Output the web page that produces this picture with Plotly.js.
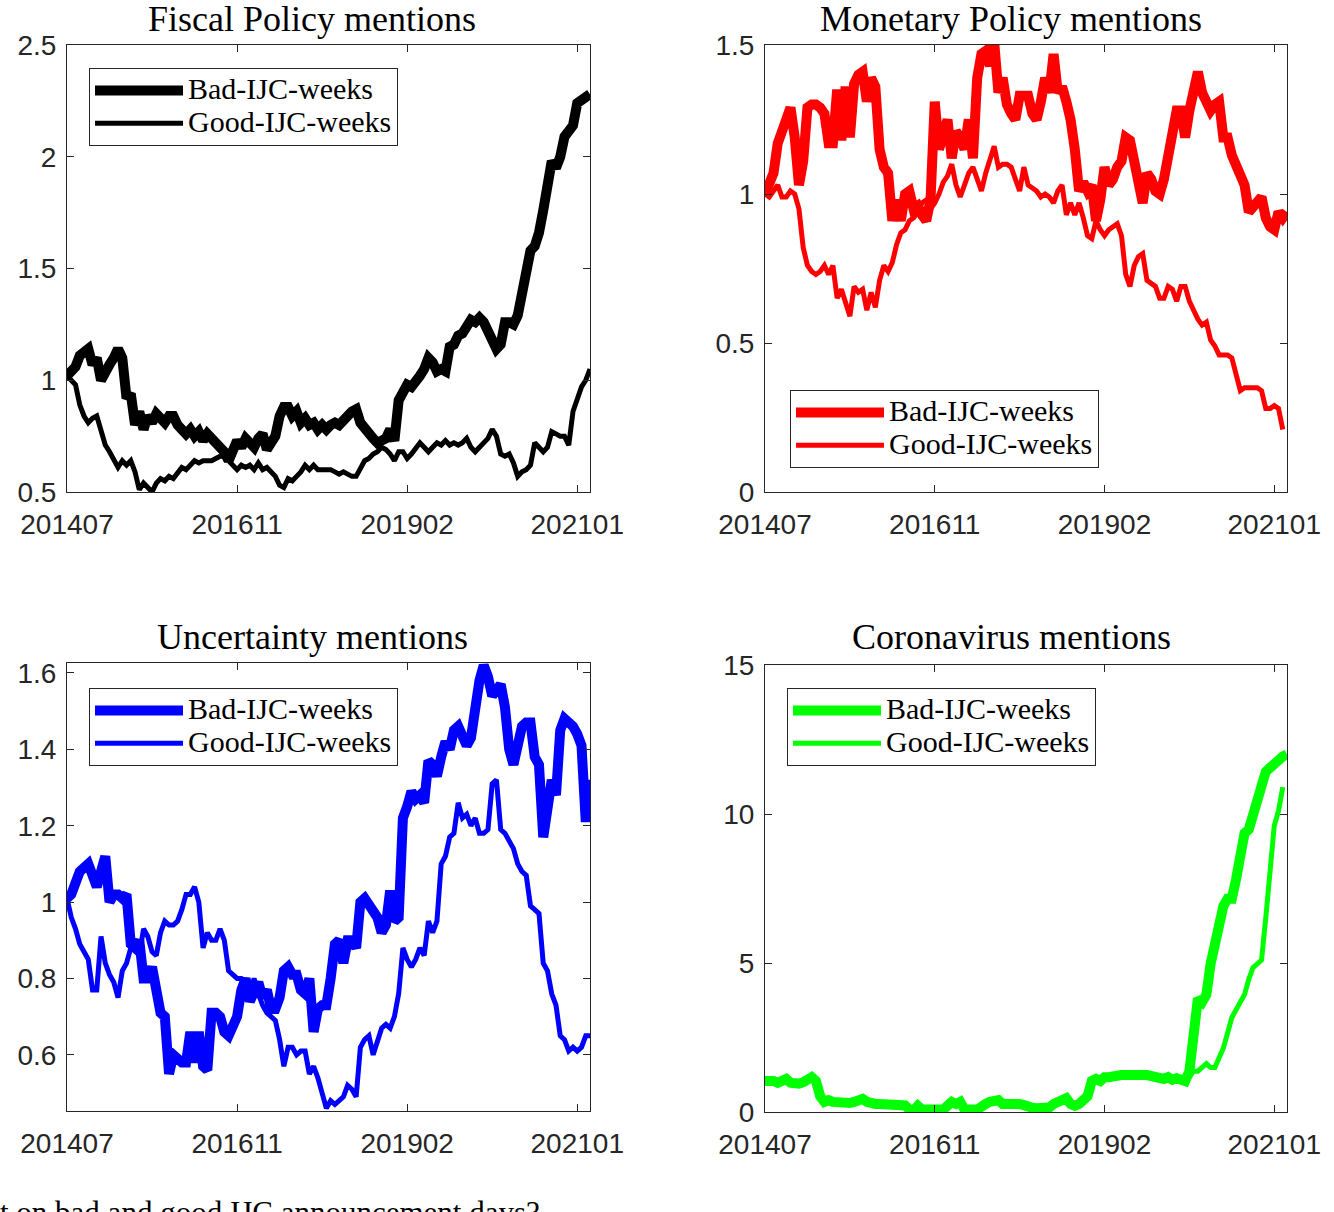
<!DOCTYPE html>
<html>
<head>
<meta charset="utf-8">
<script src="https://cdn.plot.ly/plotly-3.0.1.min.js"></script>
<style>
  html, body { margin: 0; padding: 0; background: #ffffff; }
  #chart { width: 1334px; height: 1212px; }
</style>
</head>
<body>
<div id="chart"></div>
<script>
// Observation index: one value every 2.5 steps of the sample
const STEP = 2.5;

const tickIndex = [0, 100, 200, 300];
const tickLabels = ['201407', '201611', '201902', '202101'];

const seriesNames = ['Bad-IJC-weeks', 'Good-IJC-weeks'];

// Fiscal Policy mentions
const fiscalBad = [1.02,1.04,1.06,1.11,1.12,1.14,1.07,1.10,1.00,1.05,1.07,1.10,1.14,1.10,0.92,0.94,0.80,0.86,0.78,0.84,
  0.81,0.85,0.82,0.81,0.84,0.84,0.80,0.78,0.76,0.78,0.75,0.77,0.73,0.76,0.74,0.72,0.69,0.68,0.64,0.69,
  0.73,0.70,0.74,0.72,0.70,0.74,0.76,0.69,0.72,0.75,0.84,0.88,0.88,0.84,0.86,0.81,0.83,0.80,0.81,0.78,
  0.80,0.78,0.80,0.81,0.80,0.83,0.84,0.86,0.87,0.81,0.78,0.76,0.74,0.72,0.73,0.74,0.78,0.73,0.91,0.96,
  0.98,0.97,0.99,1.02,1.05,1.10,1.08,1.04,1.05,1.04,1.15,1.16,1.20,1.21,1.24,1.27,1.26,1.28,1.26,1.21,
  1.18,1.14,1.16,1.26,1.26,1.25,1.29,1.39,1.45,1.58,1.60,1.66,1.76,1.90,1.98,1.95,2.00,2.09,2.11,2.14,
  2.24,2.25,2.27,2.28];
const fiscalGood = [1.02,1.00,0.98,0.89,0.84,0.81,0.83,0.84,0.78,0.71,0.68,0.64,0.61,0.64,0.62,0.64,0.59,0.51,0.54,0.52,
  0.50,0.54,0.56,0.55,0.57,0.56,0.59,0.61,0.60,0.62,0.64,0.63,0.64,0.64,0.64,0.65,0.66,0.66,0.64,0.62,
  0.60,0.62,0.61,0.62,0.60,0.63,0.60,0.61,0.59,0.57,0.53,0.52,0.56,0.55,0.57,0.59,0.62,0.60,0.62,0.60,
  0.60,0.60,0.60,0.59,0.58,0.59,0.58,0.57,0.57,0.61,0.64,0.65,0.67,0.68,0.70,0.69,0.67,0.64,0.68,0.68,
  0.65,0.67,0.70,0.72,0.70,0.68,0.70,0.72,0.71,0.73,0.71,0.72,0.71,0.72,0.74,0.70,0.68,0.70,0.72,0.74,
  0.78,0.75,0.67,0.66,0.67,0.63,0.57,0.59,0.60,0.62,0.72,0.70,0.68,0.70,0.77,0.76,0.75,0.75,0.71,0.86,
  0.92,0.97,1.00,1.05];

// Monetary Policy mentions
const monetaryBad = [1.00,1.03,1.07,1.17,1.22,1.25,1.29,1.19,1.03,1.11,1.29,1.30,1.30,1.29,1.27,1.17,1.17,1.35,1.18,1.36,
  1.19,1.37,1.40,1.41,1.31,1.39,1.36,1.15,1.09,1.07,0.91,0.98,0.91,1.00,1.01,0.95,0.96,0.93,0.91,0.98,
  1.31,1.15,1.19,1.25,1.12,1.21,1.19,1.15,1.25,1.12,1.39,1.47,1.48,1.43,1.51,1.34,1.39,1.30,1.27,1.25,
  1.33,1.33,1.33,1.27,1.25,1.31,1.39,1.34,1.47,1.34,1.36,1.31,1.25,1.15,1.01,1.04,1.01,1.03,0.91,0.98,
  1.09,1.03,1.05,1.09,1.11,1.19,1.18,1.11,1.03,0.97,1.07,1.05,1.01,1.00,1.05,1.13,1.19,1.28,1.28,1.19,
  1.28,1.35,1.41,1.34,1.30,1.28,1.30,1.31,1.19,1.19,1.13,1.10,1.07,1.03,0.94,0.96,0.98,0.99,0.92,0.89,
  0.88,0.94,0.92,0.94];
const monetaryGood = [1.00,0.99,1.01,1.03,0.99,0.99,1.01,1.00,0.95,0.82,0.76,0.74,0.73,0.74,0.76,0.73,0.76,0.65,0.68,0.64,
  0.59,0.69,0.67,0.68,0.61,0.67,0.62,0.71,0.76,0.74,0.77,0.83,0.87,0.88,0.91,0.92,0.94,0.97,0.98,0.95,
  0.97,1.00,1.04,1.06,1.10,1.03,0.99,1.03,1.07,1.09,1.05,1.01,1.07,1.12,1.16,1.09,1.10,1.10,1.09,1.05,
  1.01,1.09,1.03,1.02,1.01,0.99,1.00,0.99,0.97,1.01,1.03,0.93,0.97,0.93,0.97,0.92,0.86,0.85,0.91,0.88,
  0.86,0.88,0.89,0.90,0.86,0.73,0.69,0.76,0.79,0.80,0.71,0.70,0.69,0.65,0.65,0.69,0.68,0.64,0.69,0.69,
  0.64,0.61,0.58,0.56,0.57,0.51,0.49,0.46,0.46,0.46,0.45,0.39,0.34,0.35,0.35,0.35,0.35,0.34,0.28,0.28,
  0.29,0.28,0.21];

// Uncertainty mentions
const uncertaintyBad = [1.01,1.02,1.05,1.08,1.09,1.10,1.07,1.04,1.08,1.12,1.00,1.02,1.02,1.01,1.02,0.89,0.88,0.90,0.80,0.80,
  0.83,0.76,0.71,0.70,0.55,0.60,0.59,0.58,0.58,0.66,0.58,0.66,0.57,0.56,0.71,0.71,0.70,0.66,0.65,0.68,
  0.70,0.77,0.80,0.74,0.77,0.79,0.75,0.77,0.72,0.72,0.75,0.82,0.83,0.81,0.81,0.77,0.76,0.80,0.66,0.72,
  0.73,0.73,0.80,0.89,0.90,0.84,0.90,0.90,0.88,1.00,1.01,0.99,0.98,0.96,0.92,0.94,1.03,0.95,0.96,1.22,
  1.25,1.29,1.27,1.28,1.26,1.37,1.36,1.33,1.38,1.42,1.40,1.45,1.46,1.43,1.41,1.43,1.51,1.58,1.62,1.59,
  1.54,1.56,1.57,1.51,1.40,1.36,1.43,1.46,1.47,1.47,1.38,1.36,1.17,1.26,1.32,1.28,1.45,1.48,1.47,1.46,
  1.44,1.41,1.21,1.32];
const uncertaintyGood = [1.01,0.96,0.93,0.89,0.87,0.85,0.77,0.77,0.91,0.84,0.81,0.79,0.75,0.82,0.84,0.88,0.88,0.86,0.93,0.91,
  0.87,0.86,0.92,0.95,0.94,0.94,0.95,0.98,1.02,1.02,1.04,1.00,0.88,0.92,0.90,0.90,0.93,0.90,0.82,0.81,
  0.80,0.80,0.79,0.76,0.80,0.76,0.73,0.71,0.70,0.69,0.64,0.57,0.62,0.62,0.60,0.61,0.61,0.55,0.57,0.54,
  0.50,0.46,0.48,0.47,0.48,0.49,0.52,0.51,0.49,0.62,0.64,0.65,0.60,0.64,0.67,0.68,0.67,0.70,0.76,0.88,
  0.85,0.83,0.85,0.88,0.86,0.95,0.92,0.95,1.10,1.12,1.17,1.18,1.26,1.22,1.23,1.20,1.22,1.18,1.18,1.19,
  1.31,1.32,1.19,1.18,1.16,1.14,1.10,1.08,1.07,0.99,0.98,0.97,0.84,0.82,0.76,0.73,0.65,0.64,0.61,0.62,
  0.61,0.62,0.65,0.65];

// Coronavirus mentions
const coronaBad = [1.04,1.08,1.04,0.98,1.08,1.11,0.98,0.95,0.95,1.00,1.13,1.17,1.04,0.53,0.34,0.40,0.34,0.31,0.31,0.31,
  0.30,0.34,0.40,0.44,0.34,0.27,0.27,0.27,0.26,0.25,0.25,0.23,0.23,0.22,0.08,0.05,0.21,0.08,0.08,0.05,
  0.08,0.08,0.08,0.21,0.34,0.27,0.34,0.08,0.05,0.08,0.08,0.21,0.27,0.34,0.40,0.40,0.27,0.27,0.34,0.27,
  0.27,0.23,0.14,0.14,0.13,0.13,0.13,0.15,0.27,0.34,0.36,0.46,0.27,0.21,0.27,0.40,0.53,1.04,1.11,1.04,
  1.17,1.17,1.21,1.21,1.24,1.24,1.26,1.26,1.26,1.24,1.24,1.21,1.17,1.13,1.11,1.17,1.08,1.13,1.08,1.04,
  1.37,2.91,3.81,3.69,3.94,4.97,5.75,6.52,6.91,7.16,7.16,7.81,8.58,9.36,9.48,10.00,10.64,11.03,11.42,11.55,
  11.68,11.87,11.93,12.00];
const coronaGood = [1.02,1.06,1.02,0.96,1.06,1.09,0.97,0.93,0.94,0.98,1.10,1.14,1.02,0.55,0.36,0.40,0.35,0.32,0.31,0.32,
  0.31,0.35,0.41,0.43,0.35,0.28,0.27,0.28,0.26,0.25,0.26,0.23,0.24,0.22,0.09,0.06,0.20,0.09,0.08,0.06,
  0.09,0.08,0.09,0.20,0.33,0.28,0.33,0.09,0.06,0.08,0.09,0.20,0.28,0.33,0.39,0.40,0.28,0.28,0.33,0.28,
  0.27,0.24,0.15,0.14,0.14,0.13,0.14,0.16,0.26,0.33,0.37,0.45,0.28,0.22,0.28,0.39,0.55,1.02,1.09,1.05,
  1.15,1.16,1.20,1.22,1.23,1.25,1.25,1.27,1.25,1.23,1.25,1.20,1.18,1.12,1.10,1.16,1.09,1.12,1.07,1.05,
  1.17,1.37,1.37,1.49,1.62,1.49,1.49,1.82,2.14,2.65,3.17,3.43,3.69,3.94,4.46,4.85,4.97,5.10,6.52,8.07,
  9.61,10.10,10.90];

const panels = [
  {title: 'Fiscal Policy mentions',   color: '#000000', bad: fiscalBad,      good: fiscalGood,
   yTicks: [0.5, 1, 1.5, 2, 2.5], yLabels: ['0.5', '1', '1.5', '2', '2.5'], yRange: [0.5, 2.5]},
  {title: 'Monetary Policy mentions', color: '#ff0000', bad: monetaryBad,    good: monetaryGood,
   yTicks: [0, 0.5, 1, 1.5], yLabels: ['0', '0.5', '1', '1.5'], yRange: [0, 1.5]},
  {title: 'Uncertainty mentions',     color: '#0000ff', bad: uncertaintyBad, good: uncertaintyGood,
   yTicks: [0.6, 0.8, 1, 1.2, 1.4, 1.6], yLabels: ['0.6', '0.8', '1', '1.2', '1.4', '1.6'], yRange: [0.453, 1.626]},
  {title: 'Coronavirus mentions',     color: '#00ff00', bad: coronaBad,      good: coronaGood,
   yTicks: [0, 5, 10, 15], yLabels: ['0', '5', '10', '15'], yRange: [0, 15]}
];

// Page geometry (pixels) of each axes box
const W = 1334, H = 1212;
const boxes = [
  {l: 67,  r: 590,  t: 45,  b: 492, legL: 89,  legT: 68,  titleX: 312,  titleY: 19},
  {l: 765, r: 1287, t: 45,  b: 492, legL: 790, legT: 390, titleX: 1011, titleY: 19},
  {l: 67,  r: 590,  t: 663, b: 1111, legL: 89, legT: 688, titleX: 312,  titleY: 637},
  {l: 765, r: 1287, t: 665, b: 1112, legL: 787, legT: 688, titleX: 1011, titleY: 637}
];

const axisColor = '#262626';
const tickFont = {family: 'Liberation Sans, Arial, sans-serif', size: 28, color: axisColor};
const serif = 'Liberation Serif, Times New Roman, serif';
// legend rows are spaced by the base size; entry text is drawn larger
const legendTextSize = 30;
const legendLabel = s => '<span style="font-size:' + legendTextSize + 'px">' + s + '</span>';

const data = [];
const layout = {
  width: W, height: H,
  margin: {l: 0, r: 0, t: 0, b: 0},
  paper_bgcolor: '#ffffff',
  plot_bgcolor: '#ffffff',
  showlegend: true,
  annotations: []
};

panels.forEach((p, i) => {
  const n = i + 1;
  const sfx = n === 1 ? '' : String(n);
  const bx = boxes[i];
  const legendId = 'legend' + sfx;
  const xIdx = arr => arr.map((_, k) => k * STEP);

  data.push({
    x: xIdx(p.bad), y: p.bad, type: 'scatter', mode: 'lines',
    name: legendLabel(seriesNames[0]), xaxis: 'x' + sfx, yaxis: 'y' + sfx, legend: legendId,
    line: {color: p.color, width: 10}
  });
  data.push({
    x: xIdx(p.good), y: p.good, type: 'scatter', mode: 'lines',
    name: legendLabel(seriesNames[1]), xaxis: 'x' + sfx, yaxis: 'y' + sfx, legend: legendId,
    line: {color: p.color, width: 5}
  });

  layout['xaxis' + sfx] = {
    domain: [bx.l / W, bx.r / W],
    anchor: 'y' + sfx,
    range: [0, 307.5],
    tickmode: 'array', tickvals: tickIndex, ticktext: tickLabels,
    ticks: 'inside', ticklen: 7, tickwidth: 1, tickcolor: axisColor,
    showline: true, linecolor: axisColor, linewidth: 1, mirror: 'ticks',
    showgrid: false, zeroline: false,
    tickfont: tickFont, ticklabelstandoff: 7,
    fixedrange: true
  };
  layout['yaxis' + sfx] = {
    domain: [1 - bx.b / H, 1 - bx.t / H],
    anchor: 'x' + sfx,
    range: p.yRange,
    tickmode: 'array', tickvals: p.yTicks, ticktext: p.yLabels,
    ticks: 'inside', ticklen: 7, tickwidth: 1, tickcolor: axisColor,
    showline: true, linecolor: axisColor, linewidth: 1, mirror: 'ticks',
    showgrid: false, zeroline: false,
    tickfont: tickFont, ticklabelstandoff: 4,
    fixedrange: true
  };
  layout[legendId] = {
    x: bx.legL / W, y: 1 - bx.legT / H,
    xanchor: 'left', yanchor: 'top',
    bgcolor: '#ffffff', bordercolor: axisColor, borderwidth: 1,
    font: {family: serif, size: 23, color: '#000000'},
    itemwidth: 88, tracegroupgap: 0,
    itemclick: false, itemdoubleclick: false
  };
  layout.annotations.push({
    text: p.title, xref: 'paper', yref: 'paper',
    x: bx.titleX / W, y: 1 - bx.titleY / H,
    xanchor: 'center', yanchor: 'middle', showarrow: false,
    font: {family: serif, size: 36, color: '#000000'}
  });
});

// Caption line running below the figure
layout.annotations.push({
  text: 't on bad and good IJC announcement days?',
  xref: 'paper', yref: 'paper', x: -2 / W, y: 1 - 1212 / H,
  xanchor: 'left', yanchor: 'middle', showarrow: false,
  font: {family: serif, size: 31, color: '#000000'}
});

Plotly.newPlot('chart', data, layout, {staticPlot: true, displayModeBar: false});
</script>
</body>
</html>
